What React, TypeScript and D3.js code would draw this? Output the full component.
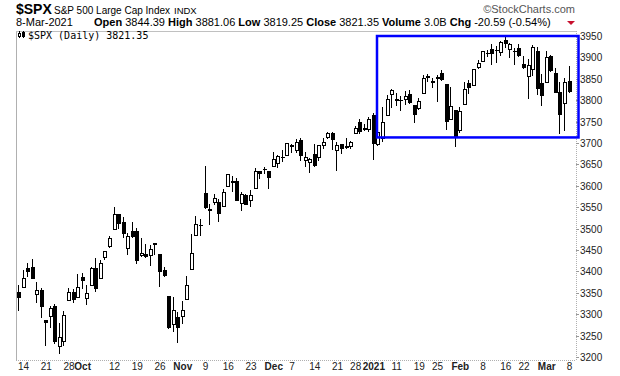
import React from "react";
import * as d3 from "d3";

const dates = [
  "2020-09-11","2020-09-14","2020-09-15","2020-09-16","2020-09-17","2020-09-18","2020-09-21","2020-09-22","2020-09-23","2020-09-24","2020-09-25","2020-09-28","2020-09-29","2020-09-30",
  "2020-10-01","2020-10-02","2020-10-05","2020-10-06","2020-10-07","2020-10-08","2020-10-09","2020-10-12","2020-10-13","2020-10-14","2020-10-15","2020-10-16","2020-10-19","2020-10-20","2020-10-21","2020-10-22","2020-10-23","2020-10-26","2020-10-27","2020-10-28","2020-10-29","2020-10-30",
  "2020-11-02","2020-11-03","2020-11-04","2020-11-05","2020-11-06","2020-11-09","2020-11-10","2020-11-11","2020-11-12","2020-11-13","2020-11-16","2020-11-17","2020-11-18","2020-11-19","2020-11-20","2020-11-23","2020-11-24","2020-11-25","2020-11-27","2020-11-30",
  "2020-12-01","2020-12-02","2020-12-03","2020-12-04","2020-12-07","2020-12-08","2020-12-09","2020-12-10","2020-12-11","2020-12-14","2020-12-15","2020-12-16","2020-12-17","2020-12-18","2020-12-21","2020-12-22","2020-12-23","2020-12-24","2020-12-28","2020-12-29","2020-12-30","2020-12-31",
  "2021-01-04","2021-01-05","2021-01-06","2021-01-07","2021-01-08","2021-01-11","2021-01-12","2021-01-13","2021-01-14","2021-01-15","2021-01-19","2021-01-20","2021-01-21","2021-01-22","2021-01-25","2021-01-26","2021-01-27","2021-01-28","2021-01-29",
  "2021-02-01","2021-02-02","2021-02-03","2021-02-04","2021-02-05","2021-02-08","2021-02-09","2021-02-10","2021-02-11","2021-02-12","2021-02-16","2021-02-17","2021-02-18","2021-02-19","2021-02-22","2021-02-23","2021-02-24","2021-02-25","2021-02-26",
  "2021-03-01","2021-03-02","2021-03-03","2021-03-04","2021-03-05","2021-03-08"
];

const opens = [
  3352.70,3363.56,3407.73,3411.23,3346.86,3357.38,3285.57,3295.75,3320.11,3226.14,3236.66,3333.90,3350.92,3341.21,
  3385.87,3338.94,3367.27,3408.74,3384.56,3434.28,3459.67,3500.02,3534.01,3515.47,3453.72,3493.50,3493.66,3439.38,3439.91,3438.50,3464.90,3441.42,3403.15,3342.48,3277.17,3293.59,
  3296.20,3336.25,3406.46,3485.74,3508.34,3583.04,3543.26,3563.22,3562.67,3552.57,3600.16,3610.31,3612.09,3559.41,3579.31,3566.82,3594.52,3635.50,3638.55,3634.18,
  3645.87,3653.78,3668.28,3670.94,3694.73,3683.05,3705.98,3659.13,3656.08,3675.27,3666.41,3696.25,3713.65,3722.39,3684.28,3698.08,3693.42,3694.03,3723.03,3750.01,3736.19,3733.27,
  3764.61,3698.02,3712.20,3764.71,3815.05,3803.14,3801.62,3802.23,3814.98,3788.73,3781.88,3816.22,3857.46,3844.24,3851.68,3862.96,3836.83,3755.75,3778.05,
  3731.17,3791.84,3840.27,3836.66,3878.30,3892.59,3910.49,3920.78,3916.40,3911.65,3939.61,3918.50,3915.86,3921.16,3885.55,3857.07,3873.71,3915.80,3839.66,
  3842.51,3903.64,3863.99,3818.53,3793.58,3844.39
];

const highs = [
  3368.95,3402.93,3419.48,3428.92,3375.17,3362.27,3285.57,3320.31,3323.35,3278.70,3306.88,3360.74,3357.92,3393.56,
  3397.18,3369.10,3409.57,3431.56,3426.26,3447.28,3482.34,3549.85,3534.01,3527.94,3489.08,3515.76,3502.42,3476.93,3464.86,3460.53,3466.46,3441.42,3409.51,3342.48,3341.05,3304.93,
  3330.14,3389.49,3486.25,3529.05,3521.58,3645.99,3557.22,3581.16,3569.02,3593.66,3628.51,3623.11,3619.09,3585.22,3581.23,3589.81,3642.31,3635.50,3644.31,3634.18,
  3678.45,3670.96,3682.73,3699.20,3697.41,3708.45,3712.39,3678.49,3665.91,3697.61,3695.29,3711.27,3725.12,3726.70,3702.90,3698.26,3711.24,3703.82,3740.51,3756.12,3744.63,3760.20,
  3769.99,3737.83,3783.04,3811.55,3826.69,3817.86,3810.78,3820.96,3823.60,3788.73,3804.53,3859.75,3861.45,3852.31,3859.23,3870.90,3836.83,3830.50,3778.05,
  3784.32,3843.09,3847.51,3872.42,3894.56,3915.77,3918.35,3931.50,3925.99,3937.23,3950.43,3933.61,3921.98,3930.41,3902.92,3895.98,3928.65,3925.02,3861.08,
  3914.50,3906.41,3874.47,3843.67,3851.69,3881.06
];

const lows = [
  3310.47,3363.56,3389.25,3384.45,3328.82,3292.40,3229.10,3270.95,3232.57,3209.45,3228.44,3332.91,3327.54,3340.47,
  3361.39,3323.69,3367.27,3354.54,3384.56,3428.15,3458.07,3499.61,3500.86,3480.55,3440.89,3480.45,3419.93,3435.65,3433.06,3415.34,3440.45,3364.86,3388.71,3268.89,3259.82,3233.94,
  3279.74,3336.25,3405.17,3485.74,3484.34,3547.48,3511.91,3557.00,3518.58,3552.57,3600.16,3588.68,3567.33,3543.84,3556.85,3552.77,3594.52,3617.76,3629.33,3594.39,
  3645.87,3644.84,3657.17,3670.94,3678.88,3678.83,3660.54,3645.18,3633.40,3645.84,3659.62,3688.57,3710.87,3685.84,3636.48,3676.16,3689.28,3689.32,3723.03,3723.31,3730.21,3726.88,
  3662.71,3695.07,3705.34,3764.71,3783.60,3789.02,3776.51,3791.50,3792.86,3749.62,3780.37,3816.22,3845.05,3830.41,3797.16,3847.78,3732.48,3755.75,3694.12,
  3725.62,3791.84,3816.68,3836.66,3874.93,3892.59,3902.64,3884.94,3890.39,3905.78,3923.85,3900.43,3885.03,3903.07,3874.71,3805.59,3859.60,3814.04,3789.54,
  3842.51,3868.57,3818.86,3723.34,3730.19,3819.25
];

const closes = [
  3340.97,3383.54,3401.20,3385.49,3357.01,3319.47,3281.06,3315.57,3236.92,3246.59,3298.46,3351.60,3335.47,3363.00,
  3380.80,3348.42,3408.60,3360.97,3419.44,3446.83,3477.14,3534.22,3511.93,3488.67,3483.34,3483.81,3426.92,3443.12,3435.56,3453.49,3465.39,3400.97,3390.68,3271.03,3310.11,3269.96,
  3310.24,3369.16,3443.44,3510.45,3509.44,3550.50,3545.53,3572.66,3537.01,3585.15,3626.91,3609.53,3567.79,3581.87,3557.54,3577.59,3635.41,3629.65,3638.35,3621.63,
  3662.45,3669.01,3666.72,3699.12,3691.96,3702.25,3672.82,3668.10,3663.46,3647.49,3694.62,3701.17,3722.48,3709.41,3694.92,3687.26,3690.01,3703.06,3735.36,3727.04,3732.04,3756.07,
  3700.65,3726.86,3748.14,3803.79,3824.68,3799.61,3801.19,3809.84,3795.54,3768.25,3798.91,3851.85,3853.07,3841.47,3855.36,3849.62,3750.77,3787.38,3714.24,
  3773.86,3826.31,3830.17,3871.74,3886.83,3915.59,3911.23,3909.88,3916.38,3934.83,3932.59,3931.33,3913.97,3906.71,3876.50,3881.37,3925.43,3829.34,3811.15,
  3901.82,3870.29,3819.72,3768.47,3841.94,3821.35
];

const tickDates = [
  "2020-09-14","2020-09-21","2020-09-28","2020-10-01","2020-10-12","2020-10-19","2020-10-26","2020-11-02","2020-11-09","2020-11-16","2020-11-23",
  "2020-12-01","2020-12-07","2020-12-14","2020-12-21","2020-12-28","2021-01-04","2021-01-11","2021-01-19","2021-01-25","2021-02-01","2021-02-08",
  "2021-02-16","2021-02-22","2021-03-01","2021-03-08"
];
const tickLabels = ["14","21","28","Oct","12","19","26","Nov","9","16","23","Dec","7","14","21","28","2021","11","19","25","Feb","8","16","22","Mar","8"];
const yTicks = d3.range(3200, 3951, 50);

// highlighted box (annotation)
const boxStartDate = "2021-01-05";
const boxHigh = 3950;
const boxLow = 3713;

const headerItems = [
  { label: "Open", value: "3844.39" },
  { label: "High", value: "3881.06" },
  { label: "Low", value: "3819.25" },
  { label: "Close", value: "3821.35" },
  { label: "Volume", value: "3.0B" },
  { label: "Chg", value: "-20.59 (-0.54%)" },
];

const FONT = "'Liberation Sans', Arial, Helvetica, sans-serif";

export default function App() {
  const left = 16, right = 576, top = 31, bottom = 360;
  const x = d3.scalePoint<string>().domain(dates).range([19, 569.5]);
  const y = d3.scaleLinear().domain([3200, 3950]).range([357, 36]);

  const candles = dates.map((d, i) => {
    const cx = Math.round(x(d) as number);
    const o = opens[i], c = closes[i];
    const yt = Math.round(y(Math.max(o, c)));
    const yb = Math.round(y(Math.min(o, c)));
    const yh = Math.round(y(highs[i]));
    const yl = Math.round(y(lows[i]));
    const filled = c < o;
    return (
      <g key={d}>
        <line x1={cx - 0.5} x2={cx - 0.5} y1={yh} y2={yl + 1} stroke="#000" strokeWidth={1} />
        {yb - yt < 1 ? (
          <line x1={cx - 2} x2={cx + 2} y1={yt + 0.5} y2={yt + 0.5} stroke="#000" strokeWidth={1} />
        ) : (
          <rect x={cx - 1.5} y={yt + 0.5} width={3} height={yb - yt} fill={filled ? "#000" : "#fff"} stroke="#000" strokeWidth={1} />
        )}
      </g>
    );
  });

  const bx0 = Math.round(x(boxStartDate) as number) - 1;
  const bx1 = right + 2.5;
  const by0 = y(boxHigh);
  const by1 = y(boxLow);

  return (
    <svg width={620} height={376} style={{ position: "fixed", left: 0, top: 0, background: "#fff" }} fontFamily={FONT}>
      <rect x={0} y={0} width={620} height={376} fill="#fff" />
      {/* header */}
      <text x={16} y={14} fontSize={14} fontWeight="bold" fill="#000">$SPX</text>
      <text x={54} y={14} fontSize={10} fill="#000">S&amp;P 500 Large Cap Index</text>
      <text x={174} y={14} fontSize={9.5} fill="#000">INDX</text>
      <text x={575} y={13} fontSize={11} fill="#555" textAnchor="end">©StockCharts.com</text>
      <text x={16} y={26} fontSize={11} fill="#000">8-Mar-2021</text>
      <text x={94} y={26} fontSize={11} fill="#000" xmlSpace="preserve">
        {headerItems.map((h, i) => (
          <React.Fragment key={h.label}>
            <tspan fontWeight="bold">{(i > 0 ? " " : "") + h.label}</tspan>
            <tspan>{" " + h.value}</tspan>
          </React.Fragment>
        ))}
      </text>
      <path d="M567,21 L575,21 L571,25 Z" fill="#c8102e" />

      {/* frame */}
      <line x1={left + 0.5} x2={left + 0.5} y1={top} y2={bottom} stroke="#b0b0b0" />
      <line x1={left} x2={right} y1={top + 0.5} y2={top + 0.5} stroke="#c0c0c0" />
      <line x1={right + 0.5} x2={right + 0.5} y1={top} y2={bottom} stroke="#b0b0b0" strokeDasharray="1,1" />
      <line x1={left} x2={right} y1={bottom + 0.5} y2={bottom + 0.5} stroke="#b0b0b0" strokeDasharray="1,1" />

      {/* legend */}
      <g stroke="#000" strokeWidth={1}>
        <line x1={19.5} x2={19.5} y1={31} y2={38} />
        <rect x={18.5} y={33.5} width={2} height={3} fill="#fff" />
        <line x1={23.5} x2={23.5} y1={31} y2={38} />
        <rect x={22.5} y={32.5} width={2} height={4} fill="#000" />
      </g>
      <text x={28} y={38.5} fontSize={10} fontFamily="'DejaVu Sans Mono', monospace" fill="#000">$SPX (Daily) 3821.35</text>

      {/* y axis */}
      {yTicks.map((t) => {
        const ty = Math.round(y(t)) + 0.5;
        return (
          <g key={t}>
            <line x1={right} x2={right + 3} y1={ty} y2={ty} stroke="#999" />
            <text x={580} y={ty + 3.5} fontSize={10} fill="#222">{t}</text>
          </g>
        );
      })}

      {/* x axis */}
      {tickDates.map((d, i) => {
        const tx = x(d) as number;
        const lab = tickLabels[i];
        const bold = isNaN(Number(lab)) || lab.length === 4;
        return (
          <text key={d} x={tx} y={370} fontSize={10} textAnchor="middle" fontWeight={bold ? "bold" : "normal"} fill="#222">{lab}</text>
        );
      })}

      {candles}

      {/* annotation box */}
      <rect x={bx0} y={by0} width={bx1 - bx0} height={by1 - by0} fill="none" stroke="#0000ff" strokeWidth={2.5} />
    </svg>
  );
}
